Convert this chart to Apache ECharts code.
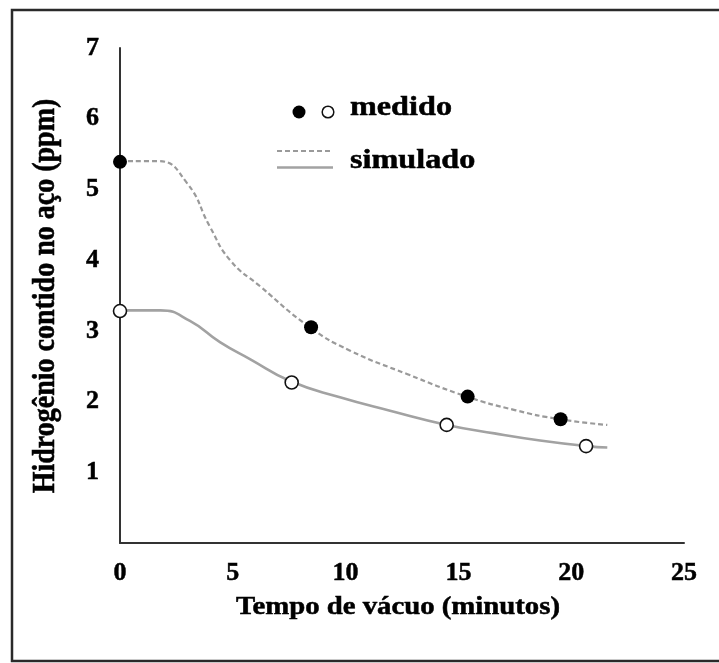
<!DOCTYPE html>
<html>
<head>
<meta charset="utf-8">
<script src="https://cdn.jsdelivr.net/npm/echarts@6/dist/echarts.min.js"></script>
<style>
  html, body { margin: 0; padding: 0; background: #fff; }
  #chart { width: 719px; height: 663px; }
</style>
</head>
<body>
<div id="chart"></div>
<script>
// Measured hydrogen content (ppm) vs vacuum time (minutes)
const measuredHigh = [[0, 5.39], [8.47, 3.05], [15.41, 2.07], [19.53, 1.75]];
const measuredLow = [[0, 3.28], [7.61, 2.27], [14.48, 1.67], [20.66, 1.37]];

// Simulated curves (vacuum time, ppm)
const simulatedHigh = [
  [0, 5.40], [1.7, 5.40], [2.97, 5.09], [3.99, 4.47], [4.88, 4.00],
  [6.21, 3.63], [8.42, 3.05], [10.2, 2.72],
  [12.72, 2.39], [15.38, 2.07], [17.5, 1.88], [19.5, 1.75], [21.6, 1.67]
];
const simulatedLow = [
  [0, 3.29], [1.8, 3.29], [3.1, 3.14], [4.43, 2.84], [5.76, 2.60],
  [7.54, 2.29], [9.75, 2.06], [11.97, 1.87], [14.49, 1.67], [16.6, 1.55],
  [18.62, 1.45], [20.7, 1.37], [21.6, 1.35]
];

const xTicks = { min: 0, max: 25, step: 5 };
const yTicks = { min: 0, max: 7, step: 1 };

const xTitle = 'Tempo de vácuo (minutos)';
const yTitle = 'Hidrogênio contido no aço (ppm)';
const legendMeasured = 'medido';
const legendSimulated = 'simulado';

const SERIF = '"Liberation Serif", "Times New Roman", serif';
const INK = '#000';

function label(text, x, y, size, opts) {
  return Object.assign({
    type: 'text', x: x, y: y, z: 100,
    style: {
      text: text,
      font: 'bold ' + size + 'px ' + SERIF,
      fill: INK,
      stroke: INK, lineWidth: 0.5,
      textAlign: 'left', align: 'left',
      textVerticalAlign: 'middle', verticalAlign: 'middle'
    }
  }, opts || {});
}

const tickLabel = {
  color: INK,
  fontFamily: SERIF, fontWeight: 'bold', fontSize: 26,
  textBorderColor: INK, textBorderWidth: 0.5
};

const chart = echarts.init(document.getElementById('chart'), null, { renderer: 'canvas' });

chart.setOption({
  backgroundColor: '#fff',
  animation: false,
  grid: { left: 120, right: 35, top: 48, bottom: 120, containLabel: false },
  xAxis: {
    type: 'value',
    min: xTicks.min, max: xTicks.max, interval: xTicks.step,
    axisLine: { show: true, lineStyle: { color: '#333', width: 2 } },
    axisTick: { show: false },
    splitLine: { show: false },
    axisLabel: Object.assign({ margin: 17 }, tickLabel)
  },
  yAxis: {
    type: 'value',
    min: yTicks.min, max: yTicks.max, interval: yTicks.step,
    axisLine: { show: true, onZero: false, lineStyle: { color: '#333', width: 2 } },
    axisTick: { show: false },
    splitLine: { show: false },
    axisLabel: Object.assign({ showMinLabel: false, margin: 21 }, tickLabel)
  },
  series: [
    {
      name: 'simulado (alto)', type: 'line', data: simulatedHigh,
      smooth: 0.5, showSymbol: false, z: 2,
      lineStyle: { color: '#9a9a9a', width: 2.2, type: [5, 3] }
    },
    {
      name: 'simulado (baixo)', type: 'line', data: simulatedLow,
      smooth: 0.5, showSymbol: false, z: 2,
      lineStyle: { color: '#a2a2a2', width: 2.6, type: 'solid' }
    },
    {
      name: 'medido (alto)', type: 'scatter', data: measuredHigh,
      symbol: 'circle', symbolSize: 14, z: 5,
      itemStyle: { color: '#000', opacity: 1 }
    },
    {
      name: 'medido (baixo)', type: 'scatter', data: measuredLow,
      symbol: 'circle', symbolSize: 13, z: 5,
      itemStyle: { color: '#fff', borderColor: '#111', borderWidth: 1.6, opacity: 1 }
    }
  ],
  graphic: [
    // outer frame (open on the right)
    {
      type: 'rect', z: 1,
      shape: { x: 12, y: 10, width: 760, height: 651 },
      style: { fill: null, stroke: '#2a2a2a', lineWidth: 2.5 }
    },
    // legend: measured markers
    {
      type: 'circle', z: 100,
      shape: { cx: 299, cy: 112, r: 6.5 },
      style: { fill: '#000' }
    },
    {
      type: 'circle', z: 100,
      shape: { cx: 328, cy: 112, r: 5.8 },
      style: { fill: '#fff', stroke: '#111', lineWidth: 1.5 }
    },
    label(legendMeasured, 350, 108, 28, { scaleX: 1.15 }),
    // legend: simulated lines
    {
      type: 'line', z: 100,
      shape: { x1: 277, y1: 151, x2: 333, y2: 151 },
      style: { stroke: '#9a9a9a', lineWidth: 2.2, lineDash: [5, 3] }
    },
    {
      type: 'line', z: 100,
      shape: { x1: 277, y1: 167.5, x2: 333, y2: 167.5 },
      style: { stroke: '#a2a2a2', lineWidth: 2.6 }
    },
    label(legendSimulated, 350, 161, 28, { scaleX: 1.15 }),
    // axis titles
    (function () {
      const t = label(xTitle, 398, 608, 25, { scaleX: 1.15 });
      t.style.textAlign = t.style.align = 'center';
      return t;
    })(),
    (function () {
      const t = label(yTitle, 46, 296, 28, { rotation: Math.PI / 2, scaleY: 1.15 });
      t.style.textAlign = t.style.align = 'center';
      return t;
    })()
  ]
});
</script>
</body>
</html>
